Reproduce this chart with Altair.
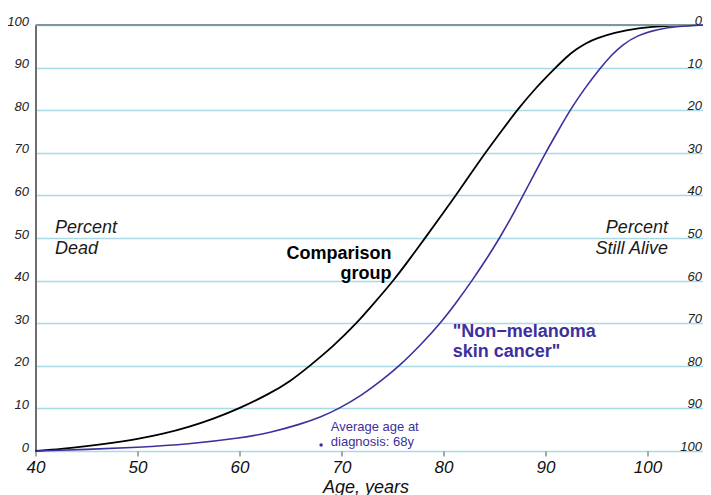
import altair as alt
import pandas as pd

# ---- data ----
comp_age = [40, 42.5, 45, 47.5, 50, 52.5, 55, 57.5, 60, 63, 65, 66.9, 69.2, 71.5, 73.3, 75.1, 76.6, 78.2,
            79.7, 81.2, 82.65, 84.1, 85.65, 87.2, 89.1, 91, 92, 93, 94, 95, 96.7, 99, 102, 105.44]
comp_pct = [0, 0.45, 1.1, 1.9, 2.8, 4.0, 5.6, 7.6, 10, 13.5, 16.4, 20, 24.6, 30, 35, 40, 44.8, 50,
            55, 60, 65, 70, 75, 80, 85.4, 90, 92.4, 94.3, 95.8, 96.9, 98.2, 99.3, 99.85, 100]

nmsc_age = [40, 45, 50, 55, 60, 63, 66, 68, 69.8, 72, 73.8, 75.7, 77.8, 79.7, 81.3, 82.8, 84.2, 85.5,
            86.7, 87.8, 88.9, 90, 91.2, 92.4, 93.8, 95.4, 96.5, 97.5, 99, 101, 103, 105.44]
nmsc_pct = [0, 0.35, 0.85, 1.6, 3.0, 4.3, 6.3, 8.0, 10, 13.1, 16.3, 20, 25, 30, 35, 40, 45, 50,
            55, 60, 65, 70, 75, 80, 85, 90, 93, 95.3, 97.6, 99, 99.7, 100]

diag_age = [68]
diag_pct = [1.4]

x_ticks = [40, 50, 60, 70, 80, 90, 100]
y_ticks = [0, 10, 20, 30, 40, 50, 60, 70, 80, 90, 100]
right_labels = [str(100 - v) for v in y_ticks]

PURPLE = "#3d309c"
FONT = "Liberation Sans"
X_MAX = 105.44

XS = alt.Scale(domain=[40, X_MAX], nice=False, zero=False)
YS = alt.Scale(domain=[0, 100], nice=False, zero=False)

comp = pd.DataFrame({"age": comp_age, "pct": comp_pct})
nmsc = pd.DataFrame({"age": nmsc_age, "pct": nmsc_pct})
diag = pd.DataFrame({"age": diag_age, "pct": diag_pct})
rlab = pd.DataFrame({"pct": y_ticks, "lab": right_labels})
top = pd.DataFrame({"pct": [100]})

x_axis = alt.Axis(
    values=x_ticks, title="Age, years", grid=False, domain=False,
    ticks=True, tickSize=5, tickColor="#555555", tickWidth=1,
    labelFontSize=17, labelFontStyle="italic", labelColor="#111111",
    labelPadding=3, labelFlush=False, labelOverlap=False,
    titleFontSize=18, titleFontStyle="italic", titleFontWeight="normal",
    titleColor="#111111", titlePadding=3, titleX=330,
)
y_axis_left = alt.Axis(
    values=y_ticks, title=None, grid=True, gridColor="#a9dbe6", gridWidth=1.5,
    domain=True, domainColor="#6e6e6e", domainWidth=2,
    ticks=False, tickSize=0, labelPadding=7,
    labelFontSize=13, labelFontStyle="italic", labelColor="#222222",
    labelBaseline="alphabetic", labelOverlap=False,
)

base_x = alt.X("age:Q", scale=XS, axis=x_axis)
base_y = alt.Y("pct:Q", scale=YS, axis=y_axis_left)

line_comp = alt.Chart(comp).mark_line(
    color="black", strokeWidth=1.8, interpolate="basis"
).encode(x=base_x, y=base_y)

line_nmsc = alt.Chart(nmsc).mark_line(
    color=PURPLE, strokeWidth=1.6, interpolate="basis"
).encode(x="age:Q", y="pct:Q")

top_rule = alt.Chart(top).mark_rule(color="#7f989e", strokeWidth=2).encode(y="pct:Q")

right_text = alt.Chart(rlab).mark_text(
    align="right", baseline="alphabetic", dx=-1, fontSize=13, fontStyle="italic",
    color="#222222", font=FONT,
).encode(x=alt.datum(X_MAX), y="pct:Q", text="lab:N")

dot = alt.Chart(diag).mark_circle(color=PURPLE, size=12, opacity=1).encode(
    x="age:Q", y="pct:Q"
)


def label(text, xv, yv, **kw):
    opts = dict(font=FONT, lineBreak="\n", baseline="alphabetic")
    opts.update(kw)
    return alt.Chart(pd.DataFrame({"t": [text]})).mark_text(**opts).encode(
        x=alt.datum(xv), y=alt.datum(yv), text="t:N",
    )


t_dead = label("Percent\nDead", 41.9, 51.2, align="left", fontSize=18,
               fontStyle="italic", color="#1a1a1a", lineHeight=21.5)
t_alive = label("Percent\nStill Alive", 102.0, 51.2, align="right", fontSize=18,
                fontStyle="italic", color="#1a1a1a", lineHeight=21.5)
t_comp = label("Comparison\ngroup", 74.9, 45.1, align="right", fontSize=18,
               fontWeight="bold", color="black", lineHeight=20)
t_nmsc = label("\"Non\u2212melanoma\nskin cancer\"", 80.9, 26.8, align="left", fontSize=18,
               fontWeight="bold", color=PURPLE, lineHeight=20.5)
t_avg = label("Average age at\ndiagnosis: 68y", 68.95, 4.8, align="left", fontSize=13,
              color=PURPLE, lineHeight=15)

chart = alt.layer(
    line_comp, top_rule, right_text, line_nmsc, dot,
    t_dead, t_alive, t_comp, t_nmsc, t_avg,
).properties(
    width=667.5, height=426,
    autosize=alt.AutoSizeParams(type="none"),
    padding={"left": 27.5, "top": 17, "right": 0, "bottom": 45},
    background="white",
).configure(font=FONT).configure_view(stroke=None)

chart.save("out.html", embed_options={"renderer": "svg", "actions": False})
